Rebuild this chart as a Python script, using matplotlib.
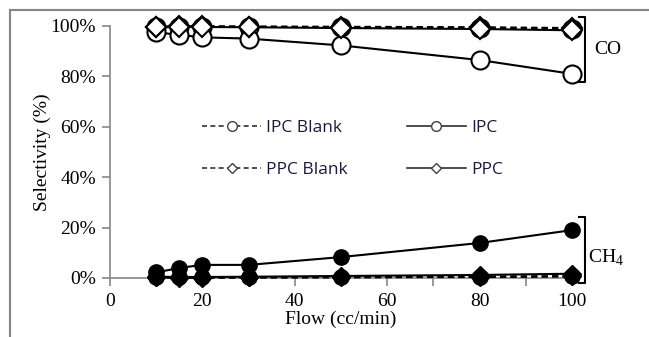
import matplotlib
matplotlib.use('Agg')
import matplotlib.pyplot as plt
from matplotlib.lines import Line2D
from matplotlib.ticker import FuncFormatter, MultipleLocator

# flujo (cc/min)
flujo = [10, 15, 20, 30, 50, 80, 100]

# selectividad CO (%)
co_ipc_blank = [99.6, 99.8, 99.8, 99.7, 99.5, 99.3, 99.0]
co_ipc = [97.5, 96.5, 95.5, 95.0, 92.3, 86.5, 81.0]
co_ppc_blank = [99.8, 99.9, 99.9, 99.8, 99.7, 99.5, 99.2]
co_ppc = [99.5, 99.6, 99.6, 99.5, 99.2, 98.8, 98.3]

# selectividad CH4 (%)
ch4_ipc_blank = [0.3, 0.2, 0.2, 0.2, 0.3, 0.5, 0.8]
ch4_ipc = [2.2, 4.0, 5.2, 5.2, 8.3, 13.9, 19.0]
ch4_ppc_blank = [0.2, 0.1, 0.1, 0.2, 0.3, 0.4, 0.6]
ch4_ppc = [0.5, 0.4, 0.4, 0.5, 0.8, 1.2, 1.7]

etiquetas = ['IPC Blank', 'IPC', 'PPC Blank', 'PPC']

plt.rcParams['font.family'] = ['Liberation Serif', 'DejaVu Serif']
plt.rcParams['mathtext.fontset'] = 'custom'
plt.rcParams['mathtext.rm'] = 'Liberation Serif'

W, H = 649, 337
fig = plt.figure(figsize=(W / 100, H / 100), dpi=100)
ax = fig.add_axes([110 / W, 1 - 278 / H, (572 - 110) / W, (278 - 26) / H])

# marco exterior
gris = '#868686'
fig.add_artist(Line2D([10 / W, 10 / W], [1 - 10 / H, 0], color=gris, lw=1.5))
fig.add_artist(Line2D([10 / W, 1], [1 - 10 / H, 1 - 10 / H], color=gris, lw=1.5))

guion = (0, (3, 2))
lw = 1.5
mew = 1.5

# CO: marcadores abiertos
ax.plot(flujo, co_ipc_blank, ls=guion, color='k', lw=lw, marker='o', ms=13,
        mfc='white', mec='k', mew=mew, clip_on=False, zorder=3)
ax.plot(flujo, co_ipc, ls='-', color='k', lw=lw, marker='o', ms=13,
        mfc='white', mec='k', mew=mew, clip_on=False, zorder=3)
ax.plot(flujo, co_ppc_blank, ls=guion, color='k', lw=lw, marker='D', ms=10,
        mfc='white', mec='k', mew=mew, clip_on=False, zorder=4)
ax.plot(flujo, co_ppc, ls='-', color='k', lw=lw, marker='D', ms=10,
        mfc='white', mec='k', mew=mew, clip_on=False, zorder=4)

# CH4: marcadores rellenos
ax.plot(flujo, ch4_ipc_blank, ls=guion, color='k', lw=lw, marker='o', ms=11,
        mfc='k', mec='k', clip_on=False, zorder=3)
ax.plot(flujo, ch4_ipc, ls='-', color='k', lw=lw, marker='o', ms=11,
        mfc='k', mec='k', clip_on=False, zorder=3)
ax.plot(flujo, ch4_ppc_blank, ls=guion, color='k', lw=lw, marker='D', ms=9,
        mfc='k', mec='k', clip_on=False, zorder=4)
ax.plot(flujo, ch4_ppc, ls='-', color='k', lw=lw, marker='D', ms=9,
        mfc='k', mec='k', clip_on=False, zorder=4)

ax.set_xlim(0, 100)
ax.set_ylim(0, 100)
ax.xaxis.set_major_locator(MultipleLocator(20))
ax.xaxis.set_minor_locator(MultipleLocator(10))
ax.yaxis.set_major_locator(MultipleLocator(20))
ax.yaxis.set_major_formatter(FuncFormatter(lambda v, p: f'{v:.0f}%'))

for s in ['top', 'right']:
    ax.spines[s].set_visible(False)
for s in ['left', 'bottom']:
    ax.spines[s].set_color(gris)
    ax.spines[s].set_linewidth(1.2)
ax.tick_params(which='both', direction='out', length=6, width=1.2, color=gris,
               labelsize=14, pad=4)
ax.tick_params(axis='x', pad=5)

ax.set_xlabel('Flow (cc/min)', fontsize=14, labelpad=0)
ax.set_ylabel('Selectivity (%)', fontsize=14, labelpad=0)

# leyenda
h = [Line2D([], [], ls=guion, color='#303030', lw=1.2, marker='o', ms=7, mfc='white', mec='#404040'),
     Line2D([], [], ls='-', color='#303030', lw=1.2, marker='o', ms=7, mfc='white', mec='#404040'),
     Line2D([], [], ls=guion, color='#303030', lw=1.2, marker='D', ms=5.5, mfc='white', mec='#404040'),
     Line2D([], [], ls='-', color='#303030', lw=1.2, marker='D', ms=5.5, mfc='white', mec='#404040')]
orden = [0, 2, 1, 3]
leg = fig.legend([h[i] for i in orden], [etiquetas[i] for i in orden], ncol=2,
                 loc='upper left', bbox_to_anchor=(202 / W, 1 - 120 / H),
                 frameon=False, handlelength=3.4, handletextpad=0.3,
                 columnspacing=3.4, labelspacing=1.5, borderpad=0, borderaxespad=0,
                 prop={'family': 'Open Sans', 'size': 12.5})
for t in leg.get_texts():
    t.set_color('#1a1a40')

# corchetes
def corchete(y0, y1):
    xs = [579 / W, 585 / W, 585 / W, 579 / W]
    ys = [1 - y0 / H, 1 - y0 / H, 1 - y1 / H, 1 - y1 / H]
    fig.add_artist(Line2D(xs, ys, color='k', lw=1.5))

corchete(17, 82)
corchete(217, 283)
fig.text(594 / W, 1 - 50 / H, 'CO', fontsize=14, va='center', ha='left')
fig.text(588 / W, 1 - 258 / H, 'CH$_{4}$', fontsize=14, va='center', ha='left')

plt.savefig('out.png', dpi=100)
